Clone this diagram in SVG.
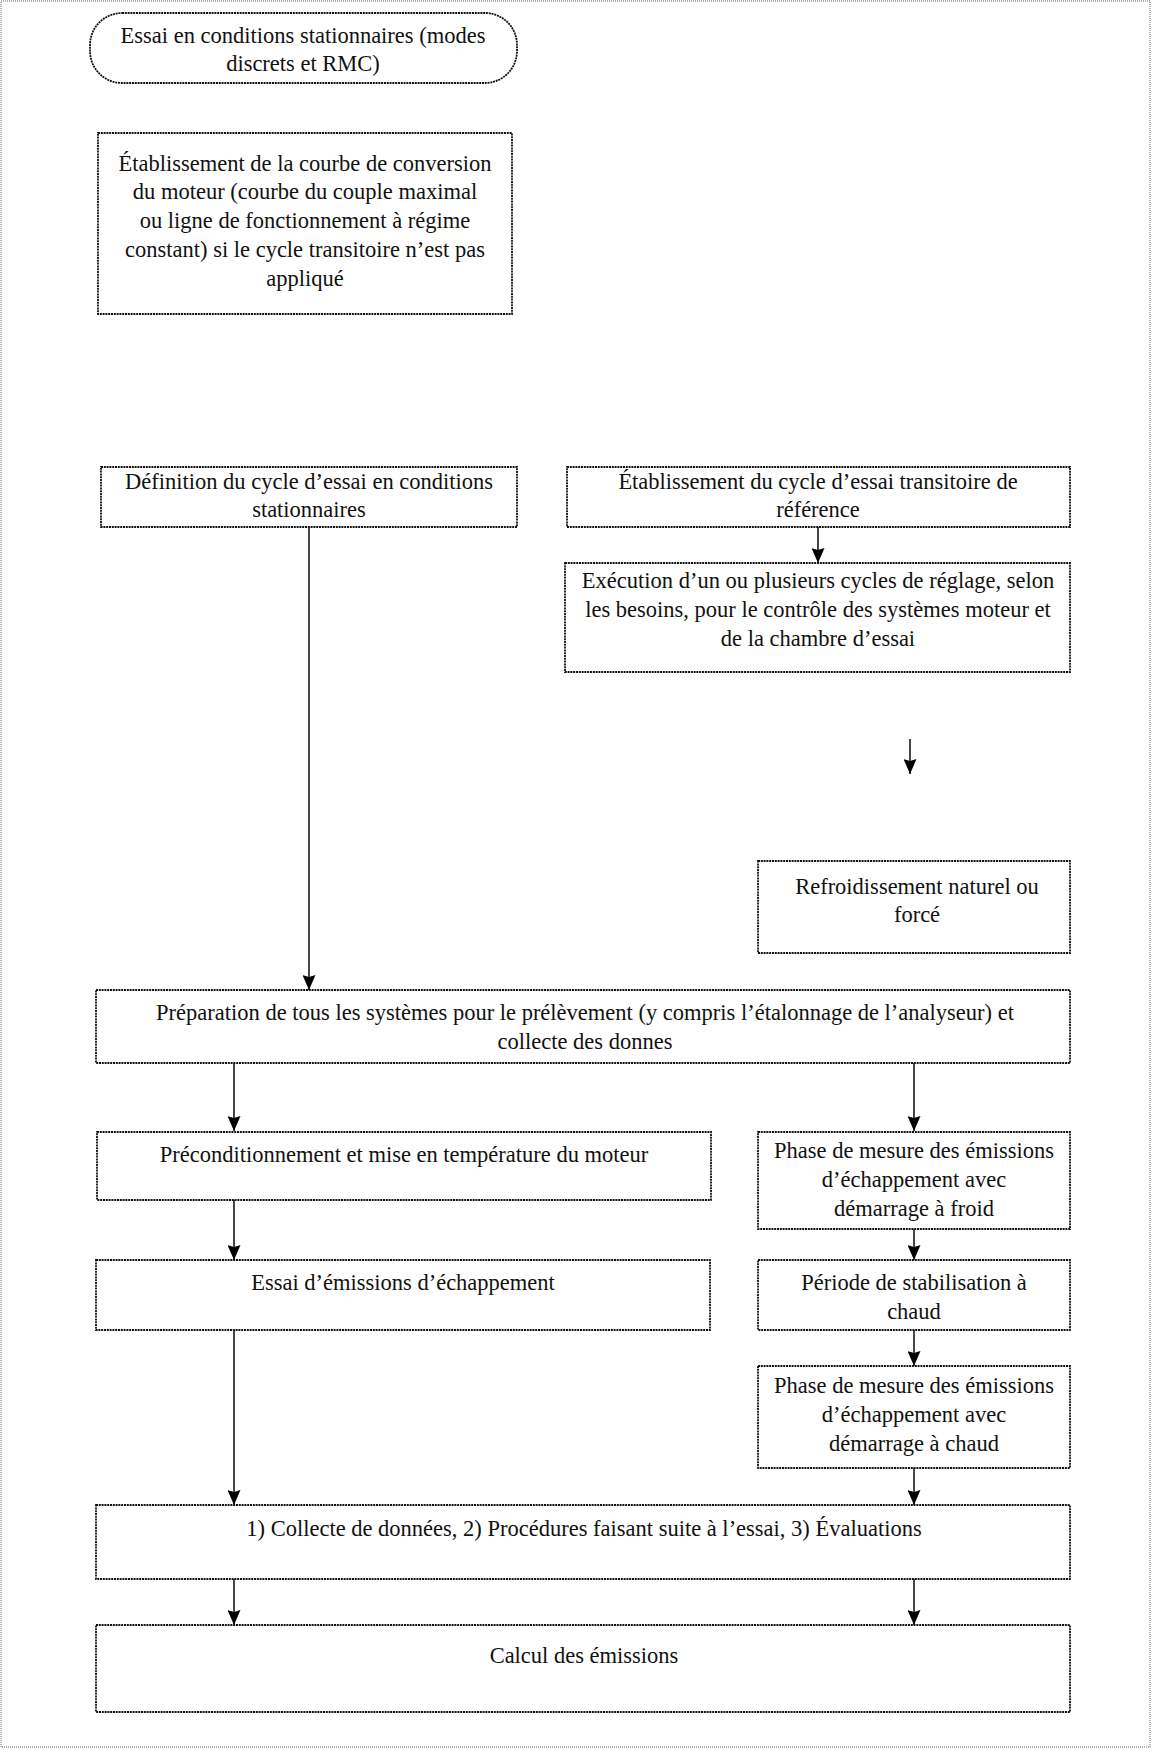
<svg xmlns="http://www.w3.org/2000/svg" width="1156" height="1753" viewBox="0 0 1156 1753">
<style>
.box{fill:#fff;stroke:#111;stroke-width:1.8;stroke-dasharray:2 0.8}
.t{font-family:"Liberation Serif","Times New Roman",serif;font-size:22.5px;fill:#111;text-anchor:middle}
.c{fill:none;stroke:#1a1a1a;stroke-width:1.6}
</style>
<defs>
<marker id="av" markerUnits="userSpaceOnUse" markerWidth="15" markerHeight="13" refX="15" refY="6.5" orient="auto" viewBox="0 0 15 13">
<path d="M0,0 L15,6.5 L0,13 L2,6.5 Z" fill="#000"/>
</marker>
</defs>
<rect x="1" y="1" width="1149" height="1746" fill="#fff" stroke="#999" stroke-width="1.5" stroke-dasharray="1 1"/>

<g id="connectors">
<line class="c" x1="818" y1="527" x2="818" y2="563" marker-end="url(#av)"/>
<line class="c" x1="910" y1="739" x2="910" y2="774" marker-end="url(#av)"/>
<line class="c" x1="309" y1="527" x2="309" y2="990" marker-end="url(#av)"/>
<line class="c" x1="234" y1="1063" x2="234" y2="1131" marker-end="url(#av)"/>
<line class="c" x1="914" y1="1063" x2="914" y2="1131" marker-end="url(#av)"/>
<line class="c" x1="234" y1="1200" x2="234" y2="1260" marker-end="url(#av)"/>
<line class="c" x1="914" y1="1229" x2="914" y2="1260" marker-end="url(#av)"/>
<line class="c" x1="914" y1="1330" x2="914" y2="1366" marker-end="url(#av)"/>
<line class="c" x1="234" y1="1330" x2="234" y2="1505" marker-end="url(#av)"/>
<line class="c" x1="914" y1="1468" x2="914" y2="1505" marker-end="url(#av)"/>
<line class="c" x1="234" y1="1579" x2="234" y2="1625" marker-end="url(#av)"/>
<line class="c" x1="914" y1="1579" x2="914" y2="1625" marker-end="url(#av)"/>
</g>

<g id="n1">
<rect class="box" x="90" y="13" width="427" height="70" rx="32" ry="32"/>
<text class="t" x="303" y="43">Essai en conditions stationnaires (modes</text>
<text class="t" x="303" y="71">discrets et RMC)</text>
</g>
<g id="n2">
<rect class="box" x="98" y="133" width="414" height="181"/>
<text class="t" x="305" y="171">Établissement de la courbe de conversion</text>
<text class="t" x="305" y="199">du moteur (courbe du couple maximal</text>
<text class="t" x="305" y="228">ou ligne de fonctionnement à régime</text>
<text class="t" x="305" y="257">constant) si le cycle transitoire n’est pas</text>
<text class="t" x="305" y="286">appliqué</text>
</g>
<g id="n3">
<rect class="box" x="101" y="467" width="416" height="60"/>
<text class="t" x="309" y="489">Définition du cycle d’essai en conditions</text>
<text class="t" x="309" y="517">stationnaires</text>
</g>
<g id="n4">
<rect class="box" x="567" y="467" width="503" height="60"/>
<text class="t" x="818" y="489">Établissement du cycle d’essai transitoire de</text>
<text class="t" x="818" y="517">référence</text>
</g>
<g id="n5">
<rect class="box" x="565" y="563" width="505" height="109"/>
<text class="t" x="818" y="588">Exécution d’un ou plusieurs cycles de réglage, selon</text>
<text class="t" x="818" y="617">les besoins, pour le contrôle des systèmes moteur et</text>
<text class="t" x="818" y="646">de la chambre d’essai</text>
</g>
<g id="n7">
<rect class="box" x="758" y="861" width="312" height="92"/>
<text class="t" x="917" y="894">Refroidissement naturel ou</text>
<text class="t" x="917" y="922">forcé</text>
</g>
<g id="n9">
<rect class="box" x="96" y="990" width="974" height="73"/>
<text class="t" x="585" y="1020">Préparation de tous les systèmes pour le prélèvement (y compris l’étalonnage de l’analyseur) et</text>
<text class="t" x="585" y="1049">collecte des donnes</text>
</g>
<g id="n11">
<rect class="box" x="97" y="1132" width="614" height="68"/>
<text class="t" x="404" y="1162">Préconditionnement et mise en température du moteur</text>
</g>
<g id="n12">
<rect class="box" x="758" y="1132" width="312" height="97"/>
<text class="t" x="914" y="1158">Phase de mesure des émissions</text>
<text class="t" x="914" y="1187">d’échappement avec</text>
<text class="t" x="914" y="1216">démarrage à froid</text>
</g>
<g id="n14">
<rect class="box" x="96" y="1260" width="614" height="70"/>
<text class="t" x="403" y="1290">Essai d’émissions d’échappement</text>
</g>
<g id="n16">
<rect class="box" x="758" y="1260" width="312" height="70"/>
<text class="t" x="914" y="1290">Période de stabilisation à</text>
<text class="t" x="914" y="1319">chaud</text>
</g>
<g id="n18">
<rect class="box" x="758" y="1366" width="312" height="102"/>
<text class="t" x="914" y="1393">Phase de mesure des émissions</text>
<text class="t" x="914" y="1422">d’échappement avec</text>
<text class="t" x="914" y="1451">démarrage à chaud</text>
</g>
<g id="n20">
<rect class="box" x="96" y="1505" width="974" height="74"/>
<text class="t" x="584" y="1536">1) Collecte de données, 2) Procédures faisant suite à l’essai, 3) Évaluations</text>
</g>
<g id="n22">
<rect class="box" x="96" y="1625" width="974" height="87"/>
<text class="t" x="584" y="1663">Calcul des émissions</text>
</g>
</svg>
